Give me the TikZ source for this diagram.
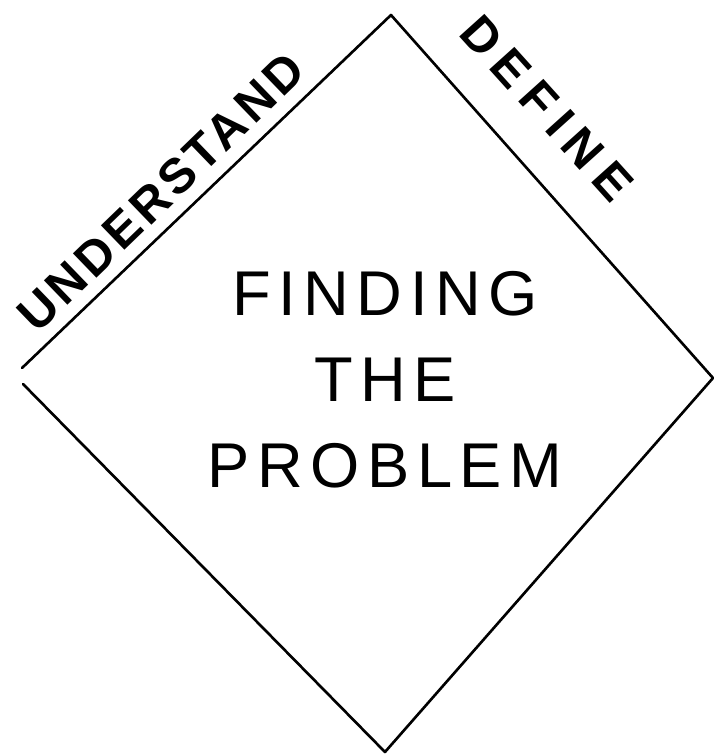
\documentclass[tikz,border=0pt]{standalone}
\usepackage{fontspec}
\newfontfamily\handfont[LetterSpace=12]{Liberation Sans}
\usetikzlibrary{positioning}

\begin{document}
\begin{tikzpicture}[x=0.02cm, y=-0.02cm,
    edge/.style={line width=1.5pt, line cap=round, line join=round},
    phase/.style={font=\handfont\bfseries\fontsize{28}{28}\selectfont, inner sep=0pt},
    title/.style={font=\handfont\fontsize{36}{49}\selectfont, align=center, inner sep=0pt}
  ]
  \useasboundingbox (0,0) rectangle (715,755);

  % corners of the diamond
  \coordinate (top) at (391,15);
  \coordinate (right) at (713,378);
  \coordinate (bottom) at (385,752);
  \coordinate (leftup) at (22,368);
  \coordinate (leftdown) at (23,384);

  \draw[edge] (leftup) -- (top) -- (right) -- (bottom) -- (leftdown);

  % labels along the upper edges
  \node[phase, rotate=44] (understand) at (161,192)
    {\addfontfeature{LetterSpace=8}UNDERSTAND};
  \node[phase, rotate=-48] (define) at (547,108)
    {\addfontfeature{LetterSpace=20}DEFINE};

  % centre text
  \node[title] (finding) at (385,380) {FINDING\\THE\\PROBLEM};
\end{tikzpicture}
\end{document}
